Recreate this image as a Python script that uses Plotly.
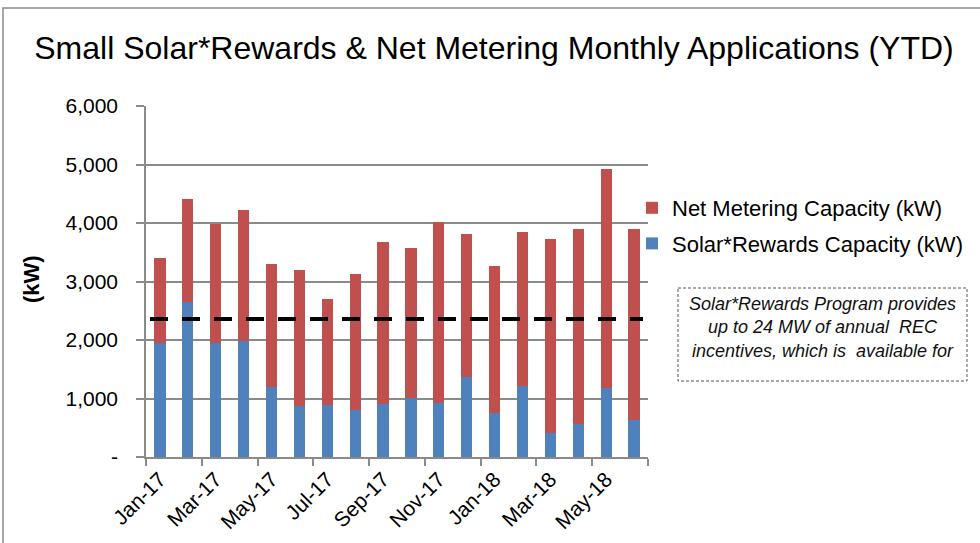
import plotly.graph_objects as go

months = ["Jan-17", "Feb-17", "Mar-17", "Apr-17", "May-17", "Jun-17", "Jul-17", "Aug-17", "Sep-17",
          "Oct-17", "Nov-17", "Dec-17", "Jan-18", "Feb-18", "Mar-18", "Apr-18", "May-18", "Jun-18"]
solar_rewards = [1950, 2645, 1955, 1975, 1205, 865, 890, 810, 900,
                 1005, 925, 1365, 755, 1215, 410, 565, 1180, 625]
total_capacity = [3400, 4405, 3975, 4225, 3300, 3205, 2695, 3135, 3670,
                  3580, 4020, 3810, 3270, 3840, 3730, 3890, 4930, 3905]
net_metering = [t - s for t, s in zip(total_capacity, solar_rewards)]
threshold = 2360
y_ticks = [0, 1000, 2000, 3000, 4000, 5000, 6000]
y_ticktext = ["-", "1,000", "2,000", "3,000", "4,000", "5,000", "6,000"]

FONT = "Liberation Sans, Arial, sans-serif"
GRID = "#8a8a8a"
x_idx = list(range(len(months)))

# plot area in pixels
L, R, T, B = 146, 648, 106, 457


def pxx(x):
    return (x - L) / (R - L)


def pxy(y):
    return (B - y) / (B - T)


fig = go.Figure()
fig.add_trace(go.Bar(x=x_idx, y=solar_rewards, name="Solar*Rewards Capacity (kW)",
                     marker=dict(color="#4F81BD", line=dict(width=0)), width=0.4,
                     legendgroup="a", legendrank=2))
fig.add_trace(go.Bar(x=x_idx, y=net_metering, name="Net Metering Capacity (kW)",
                     marker=dict(color="#C0504D", line=dict(width=0)), width=0.4,
                     legendgroup="b", legendrank=1))

fig.add_shape(type="line", xref="paper", yref="y", x0=0.008, x1=0.99, y0=threshold, y1=threshold,
              line=dict(color="black", width=4, dash="18px,14px"))

# outer border (top and left)
fig.add_shape(type="path", xref="paper", yref="paper",
              path=f"M {pxx(980)} {pxy(8)} L {pxx(3)} {pxy(8)} L {pxx(3)} {pxy(543)}",
              line=dict(color="#8c8c8c", width=1.5))

# note box
fig.add_shape(type="rect", xref="paper", yref="paper",
              x0=pxx(678), x1=pxx(967), y0=pxy(288), y1=pxy(381),
              line=dict(color="#555555", width=1, dash="3px,2px"))
fig.add_annotation(xref="paper", yref="paper", x=pxx(822), y=pxy(292), xanchor="center", yanchor="top",
                   text="<i>Solar*Rewards Program provides<br>up to 24 MW of annual  REC<br>incentives, which is  available for</i>",
                   showarrow=False, align="center",
                   font=dict(family=FONT, size=18, color="#111111"))

fig.add_annotation(xref="paper", yref="paper", x=pxx(31), y=pxy(279), textangle=-90,
                   xanchor="center", yanchor="middle",
                   text="<b>(kW)</b>", showarrow=False,
                   font=dict(family=FONT, size=22, color="black"))

fig.update_layout(
    width=980, height=543,
    margin=dict(l=L, r=980 - R, t=T, b=543 - B, autoexpand=False),
    paper_bgcolor="white", plot_bgcolor="white",
    barmode="stack",
    font=dict(family=FONT, color="black"),
    title=dict(text="Small Solar*Rewards & Net Metering Monthly Applications (YTD)",
               x=494 / 980, xanchor="center", y=1 - 48 / 543, yanchor="middle",
               font=dict(family=FONT, size=32, color="black")),
    legend=dict(x=pxx(632), y=pxy(187), xanchor="left", yanchor="top",
                traceorder="grouped", tracegroupgap=4,
                font=dict(family=FONT, size=22, color="black"),
                bgcolor="rgba(0,0,0,0)"),
    xaxis=dict(range=[-0.5, len(months) - 0.5],
               tickmode="array", tickvals=x_idx[::2], ticktext=months[::2],
               ticks="", tickangle=-45, showgrid=False,
               showline=True, linecolor=GRID, linewidth=1.5,
               tickfont=dict(family=FONT, size=21, color="black"),
               minor=dict(tickmode="array",
                          tickvals=[i - 0.5 for i in x_idx[::2]] + [len(months) - 0.5],
                          ticks="outside", ticklen=7, tickcolor=GRID, tickwidth=1.5,
                          showgrid=False),
               zeroline=False),
    yaxis=dict(range=[0, 6000], tickmode="array", tickvals=y_ticks, ticktext=y_ticktext,
               ticks="outside", ticklen=8, tickcolor=GRID, tickwidth=1.5,
               showgrid=True, gridcolor=GRID, gridwidth=1.5,
               showline=True, linecolor=GRID, linewidth=1.5, zeroline=False,
               ticklabelstandoff=14,
               tickfont=dict(family=FONT, size=21, color="black")),
)

fig.write_html("out.html", config={"displayModeBar": False},
               post_script="document.body.style.margin='0';")
